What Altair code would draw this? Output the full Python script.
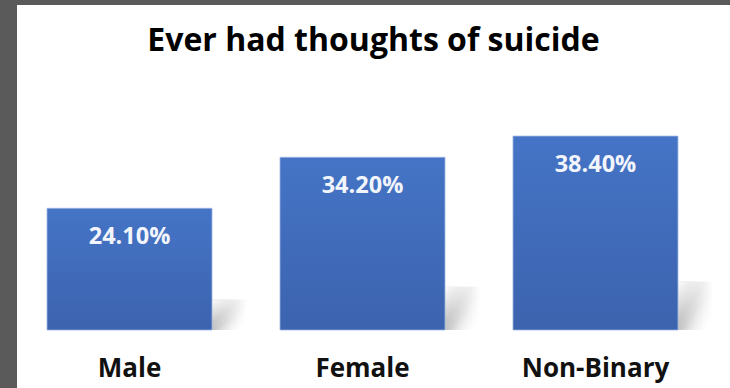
import altair as alt
import pandas as pd

categories = ["Male", "Female", "Non-Binary"]
values = [0.241, 0.342, 0.384]

df = pd.DataFrame({"cat": categories, "value": values})

x_enc = alt.X("cat:N", sort=categories,
              scale=alt.Scale(paddingInner=0.2918, paddingOuter=0.146),
              axis=alt.Axis(title=None, domain=False, ticks=False, labelAngle=0,
                            labelFont="Open Sans", labelFontWeight="bold",
                            labelFontSize=26, labelColor="#111111",
                            labelPadding=25, zindex=2))
y_scale = alt.Scale(domain=[0, 0.40], nice=False)

base = alt.Chart(df)

panel = base.mark_rect(fill="#ffffff").encode(
    x=alt.value(4), x2=alt.value(717), y=alt.value(-123), y2=alt.value(260)
).transform_filter("datum.cat == 'Male'")

shadow_base = base.transform_calculate(shadow="datum.value * 0.25").mark_bar(
    width=36, xOffset=100,
    fill=alt.Gradient(gradient="linear", x1=0, y1=0.5, x2=1, y2=0.5,
                      stops=[alt.GradientStop(color="#c2c2c2", offset=0),
                             alt.GradientStop(color="#e4e4e4", offset=0.55),
                             alt.GradientStop(color="#ffffff", offset=1)])
).encode(x=x_enc, y=alt.Y("shadow:Q", scale=y_scale, axis=None), y2=alt.datum(0))

shadow_cut = base.transform_calculate(shadow="datum.value * 0.25").mark_bar(
    width=36, xOffset=100,
    fill=alt.Gradient(gradient="linear", x1=0, y1=0, x2=1, y2=1,
                      stops=[alt.GradientStop(color="rgba(255,255,255,1)", offset=0),
                             alt.GradientStop(color="rgba(255,255,255,0)", offset=0.42),
                             alt.GradientStop(color="rgba(255,255,255,0)", offset=0.55),
                             alt.GradientStop(color="rgba(255,255,255,1)", offset=0.9)])
).encode(x=x_enc, y=alt.Y("shadow:Q", scale=y_scale, axis=None), y2=alt.datum(0))

bars = base.mark_bar(
    fill=alt.Gradient(gradient="linear", x1=0.5, y1=0, x2=0.5, y2=1,
                      stops=[alt.GradientStop(color="#4574C6", offset=0),
                             alt.GradientStop(color="#3C63AE", offset=1)]),
    stroke="#9db5e2", strokeWidth=0.8
).encode(x=x_enc, y=alt.Y("value:Q", scale=y_scale, axis=None))

labels = base.mark_text(
    font="Open Sans", fontWeight="bold", fontSize=23.5, color="#f2f5fb",
    baseline="middle", yOffset=29
).encode(x=x_enc, y=alt.Y("value:Q", scale=y_scale, axis=None),
         text=alt.Text("value:Q", format=".2%"))

chart = alt.layer(panel, shadow_base, shadow_cut, bars, labels).properties(
    width=699, height=202,
    padding={"left": 13, "top": 128, "right": 18, "bottom": 58},
    autosize=alt.AutoSizeParams(type="none"),
    background="#5a5a5a",
    title=alt.TitleParams("Ever had thoughts of suicide", font="Open Sans",
                          fontWeight="bold", fontSize=32, color="#000000",
                          anchor="middle", dx=11, offset=-78, baseline="alphabetic",
                          zindex=2)
).configure_view(stroke=None)

chart.save("out.html", embed_options={"renderer": "svg", "actions": False})
